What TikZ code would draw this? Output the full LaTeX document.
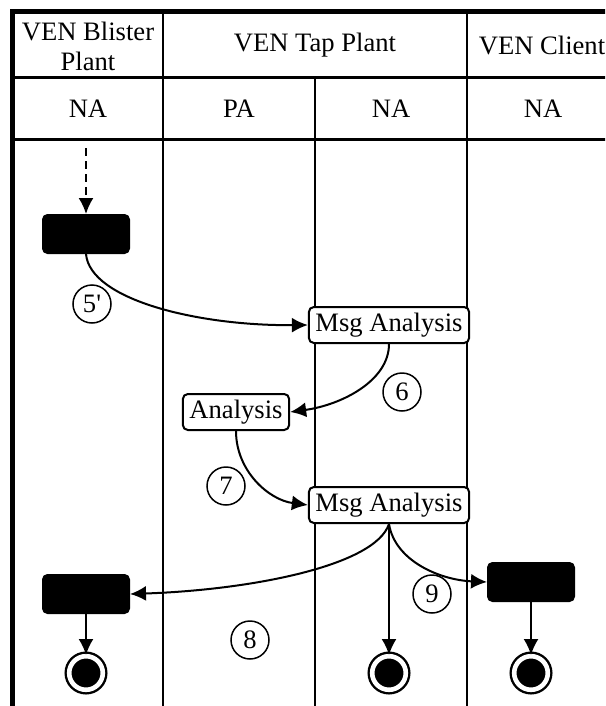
\documentclass[tikz,border=0pt]{standalone}
\usepackage{fontspec}
\setmainfont{Liberation Serif}
\usetikzlibrary{arrows.meta}

\tikzset{
	act/.style={draw,fill=black,rounded corners=2.5pt,minimum width=43.5pt,minimum height=19.5pt,line width=0.5pt},
	msg/.style={draw,fill=white,rounded corners=2.5pt,line width=1pt,inner xsep=3.3pt,inner ysep=1pt,minimum height=18pt},
	num/.style={draw,circle,line width=0.75pt,minimum size=19pt,inner sep=0pt},
	fin/.style={draw,circle,fill=black,line width=1.2pt,double=white,double distance=2.3pt,minimum size=16.8pt,inner sep=0pt},
	flow/.style={->,line width=1pt}
}

\begin{document}
\begin{tikzpicture}[x=0.5pt,y=-0.5pt,>={Latex[length=8pt,width=7.5pt]},font=\fontsize{13.3}{15}\selectfont]
	\useasboundingbox (0,0) rectangle (605,706);
	\clip (0,0) rectangle (605,706);
	
	% lanes
	\draw[line width=2.5pt] (12,706) -- (12,12) -- (640,12);
	\draw[line width=1.5pt] (12,78) -- (640,78) (12,139) -- (640,139);
	\foreach \x in {163,467}
	\draw[line width=1pt] (\x,12) -- (\x,706);
	\draw[line width=1pt] (315,78) -- (315,706);
	
	\node[align=center] (blister) at (88,46) {VEN Blister\\Plant};
	\node (tap) at (315,45) {VEN Tap Plant};
	\node (client) at (542,45) {VEN Client};
	\node (roleA) at (88,109) {NA};
	\node (roleB) at (239,109) {PA};
	\node (roleC) at (391,109) {NA};
	\node (roleD) at (543,109) {NA};
	
	% activities
	\coordinate (in) at (86,148);
	\node[act] (a1) at (86,234) {};
	\node[msg] (m1) at (389,325) {Msg Analysis};
	\node[msg] (an) at (236,412) {Analysis};
	\node[msg] (m2) at (389,505) {Msg Analysis};
	\node[act] (a2) at (86,594) {};
	\node[act] (a3) at (531,582) {};
	\node[fin] (f1) at (86,673) {};
	\node[fin] (f2) at (389,673) {};
	\node[fin] (f3) at (531,673) {};
	
	\draw[flow,dash pattern=on 4pt off 2.5pt] (in) -- (a1);
	\draw[flow] (a1.south) .. controls +(4,46) and +(-109,1) .. (m1.west);
	\draw[flow] (m1.south) .. controls +(0,37) and +(51,-7) .. (an.east);
	\draw[flow] (an.south) .. controls +(0,40) and +(-39,-5) .. (m2.west);
	\draw[flow] (m2.south) .. controls +(-14,42) and +(120,-4) .. (a2.east);
	\draw[flow] (m2.south) -- (f2);
	\draw[flow] (m2.south) .. controls +(6,37) and +(-47,-2) .. (a3.west);
	\draw[flow] (a2) -- (f1);
	\draw[flow] (a3) -- (f3);
	
	% step numbers
	\node[num] (n5) at (92,304) {5\textquotesingle};
	\node[num] (n6) at (402,392) {6};
	\node[num] (n7) at (226,486) {7};
	\node[num] (n8) at (250,640) {8};
	\node[num] (n9) at (432,594) {9};
\end{tikzpicture}
\end{document}
